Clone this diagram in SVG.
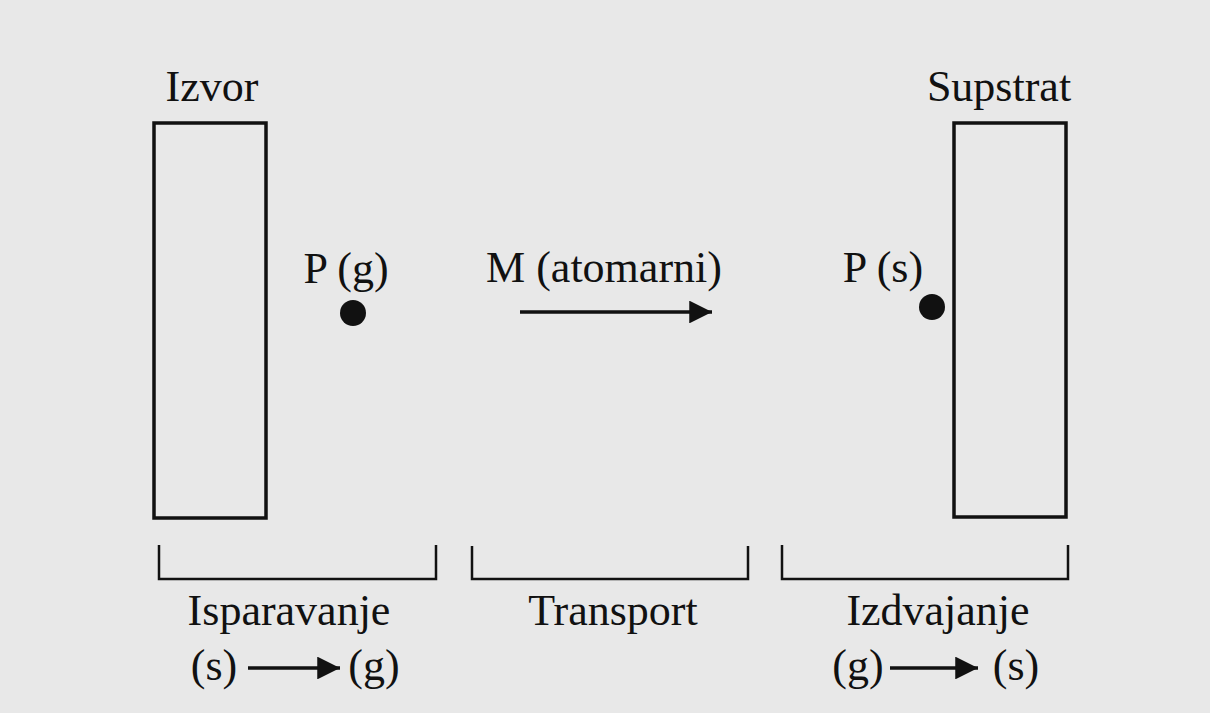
<svg xmlns="http://www.w3.org/2000/svg" width="1210" height="713" viewBox="0 0 1210 713">
<defs>
<style>
.t{font-family:"Liberation Serif","Times New Roman",serif;font-size:44px;fill:#111;text-anchor:middle}
.box{fill:none;stroke:#111;stroke-width:3.5}
.br{fill:none;stroke:#111;stroke-width:2.5}
.ln{stroke:#111;stroke-width:3.5;fill:none}
.dot{fill:#111}
</style>
<marker id="ah" viewBox="0 0 10 10" refX="10" refY="5" markerWidth="6.5" markerHeight="6.5" markerUnits="strokeWidth" orient="auto">
<path d="M0,0 L10,5 L0,10 z" fill="#111"/>
</marker>
</defs>
<rect width="1210" height="713" fill="#e8e8e8"/>
<g id="izvor">
<rect class="box" x="154" y="123" width="112" height="395"/>
<text class="t" x="212" y="101">Izvor</text>
</g>
<g id="supstrat">
<rect class="box" x="954" y="123" width="112" height="394"/>
<text class="t" x="999" y="101">Supstrat</text>
</g>
<g id="pg">
<text class="t" x="346" y="283">P (g)</text>
<circle class="dot" cx="353" cy="313" r="13"/>
</g>
<g id="ps">
<text class="t" x="883" y="282">P (s)</text>
<circle class="dot" cx="932" cy="307" r="13"/>
</g>
<g id="transport-label">
<text class="t" x="604" y="282">M (atomarni)</text>
</g>
<g id="isparavanje">
<path class="br" d="M159,545 V579 H436 V545"/>
<text class="t" x="289" y="625">Isparavanje</text>
<text class="t" x="214" y="680">(s)</text>
<text class="t" x="374" y="680">(g)</text>
</g>
<g id="transport">
<path class="br" d="M472,546 V579 H748 V546"/>
<text class="t" x="613" y="625">Transport</text>
</g>
<g id="izdvajanje">
<path class="br" d="M782,545 V579 H1068 V545"/>
<text class="t" x="938" y="625">Izdvajanje</text>
<text class="t" x="858" y="680">(g)</text>
<text class="t" x="1016" y="680">(s)</text>
</g>
<g id="connectors">
<line class="ln" x1="520" y1="312" x2="712" y2="312" marker-end="url(#ah)"/>
<line class="ln" x1="248" y1="668" x2="340" y2="668" marker-end="url(#ah)"/>
<line class="ln" x1="890" y1="668" x2="978" y2="668" marker-end="url(#ah)"/>
</g>
</svg>
